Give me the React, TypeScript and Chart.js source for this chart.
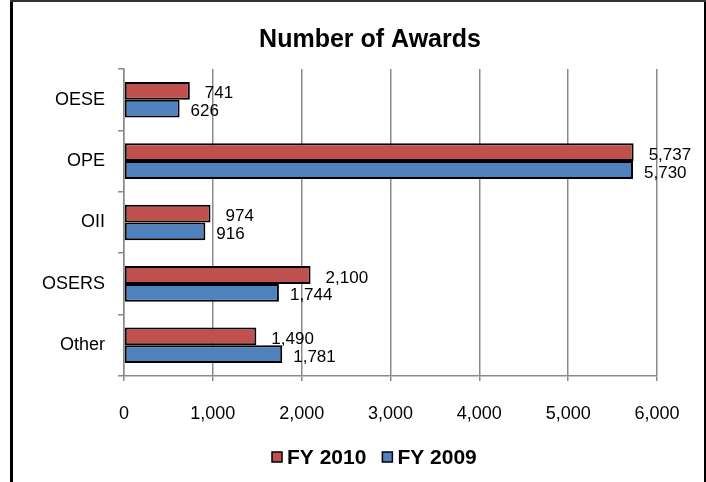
import React, { useEffect, useRef } from "react";
import { Chart, registerables } from "chart.js";

Chart.register(...registerables);

const categories = ["OESE", "OPE", "OII", "OSERS", "Other"];
const seriesNames = ["FY 2010", "FY 2009"];
const fy2010 = [741, 5737, 974, 2100, 1490];
const fy2009 = [626, 5730, 916, 1744, 1781];
const seriesColors = ["#C0504D", "#4F81BD"];
const xMin = 0;
const xMax = 6000;
const xStep = 1000;
const titleText = "Number of Awards";

const FONT = "'Liberation Sans', Arial, sans-serif";
const fmt = (v: number) => v.toLocaleString("en-US");

const framePlugin = {
  id: "frame",
  beforeDraw(chart: any) {
    const { ctx, width, height } = chart;
    ctx.save();
    ctx.fillStyle = "#ffffff";
    ctx.fillRect(0, 0, width, height);
    ctx.restore();
  },
  afterDraw(chart: any) {
    const { ctx, width, height } = chart;
    ctx.save();
    // border
    ctx.fillStyle = "#000";
    ctx.fillRect(10, 0, 3, height);
    ctx.fillRect(width - 2, 0, 2, height);
    ctx.fillStyle = "#333";
    ctx.fillRect(10, 0, width - 10, 2);
    // title
    ctx.fillStyle = "#000";
    ctx.font = `bold 25px ${FONT}`;
    ctx.textAlign = "center";
    ctx.textBaseline = "middle";
    ctx.fillText(titleText, 370, 40);
    // legend
    const legendY = 457;
    const items = chart.data.datasets;
    ctx.font = `bold 21px ${FONT}`;
    ctx.textAlign = "left";
    let x = 272;
    items.forEach((ds: any) => {
      ctx.fillStyle = ds.backgroundColor;
      ctx.fillRect(x, legendY - 5, 10, 10);
      ctx.strokeStyle = "#000";
      ctx.lineWidth = 1.5;
      ctx.strokeRect(x, legendY - 5, 10, 10);
      ctx.fillStyle = "#000";
      ctx.fillText(ds.label, x + 15, legendY + 1);
      const w = ctx.measureText(ds.label).width;
      x += 15 + w + 16;
    });
    ctx.restore();
  },
};

const labelPlugin = {
  id: "barLabels",
  afterDatasetsDraw(chart: any) {
    const { ctx } = chart;
    ctx.save();
    ctx.font = `17px ${FONT}`;
    ctx.fillStyle = "#000";
    ctx.textAlign = "left";
    ctx.textBaseline = "middle";
    const offsets = [15, 11];
    chart.data.datasets.forEach((ds: any, di: number) => {
      const meta = chart.getDatasetMeta(di);
      meta.data.forEach((el: any, i: number) => {
        ctx.fillText(fmt(ds.data[i]), el.x + offsets[di], el.y + 3);
      });
    });
    ctx.restore();
  },
};

export default function App() {
  const ref = useRef<HTMLCanvasElement | null>(null);
  useEffect(() => {
    if (!ref.current) return;
    const gridColor = "#8a8a8a";
    const chart = new Chart(ref.current, {
      type: "bar",
      data: {
        labels: categories,
        datasets: [
          {
            label: seriesNames[0],
            data: fy2010,
            backgroundColor: seriesColors[0],
            borderColor: "#000",
            borderWidth: 2,
            borderSkipped: false,
          },
          {
            label: seriesNames[1],
            data: fy2009,
            backgroundColor: seriesColors[1],
            borderColor: "#000",
            borderWidth: 2,
            borderSkipped: false,
          },
        ],
      },
      options: {
        indexAxis: "y",
        responsive: false,
        animation: false,
        datasets: { bar: { categoryPercentage: 0.58, barPercentage: 1 } },
        layout: { padding: { left: 0, top: 69, right: 49, bottom: 0 } },
        plugins: {
          legend: { display: false },
          title: { display: false },
          tooltip: { enabled: false },
        },
        scales: {
          x: {
            min: xMin,
            max: xMax,
            afterFit: (s: any) => {
              s.height = 106;
            },
            ticks: {
              stepSize: xStep,
              color: "#000",
              font: { family: FONT, size: 18 },
              padding: 22,
              maxRotation: 0,
              callback: (v: any) => fmt(Number(v)),
            },
            grid: {
              color: gridColor,
              lineWidth: 1.5,
              tickLength: 5,
              tickColor: gridColor,
            },
            border: { color: gridColor, width: 1.5 },
          },
          y: {
            afterFit: (s: any) => {
              s.width = 124;
            },
            ticks: {
              color: "#000",
              font: { family: FONT, size: 18 },
              padding: 13,
            },
            grid: {
              drawOnChartArea: false,
              offset: true,
              tickLength: 6,
              color: gridColor,
              lineWidth: 1.5,
            },
            border: { color: gridColor, width: 1.5 },
          },
        },
      },
      plugins: [framePlugin, labelPlugin],
    } as any);
    return () => chart.destroy();
  }, []);
  return (
    <div style={{ position: "absolute", left: 0, top: 0, width: 706, height: 482 }}>
      <canvas ref={ref} width={706} height={482} style={{ display: "block" }} />
    </div>
  );
}
